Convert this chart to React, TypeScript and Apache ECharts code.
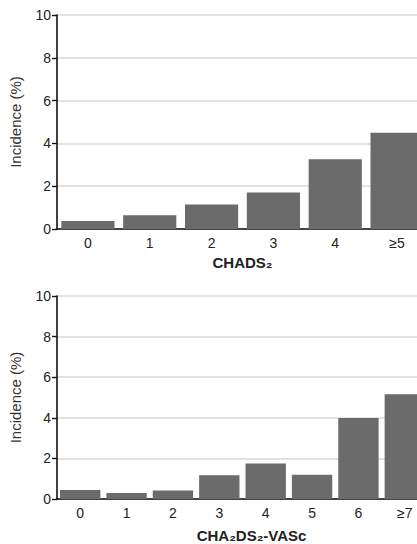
import React, { useEffect, useRef } from "react";
import * as echarts from "echarts";

const chadsCategories = ["0", "1", "2", "3", "4", "≥5"];
const chadsValues = [0.37, 0.64, 1.14, 1.7, 3.26, 4.5];
const vascCategories = ["0", "1", "2", "3", "4", "5", "6", "≥7"];
const vascValues = [0.44, 0.29, 0.42, 1.17, 1.75, 1.2, 3.99, 5.16];
const yTicks = { min: 0, max: 10, interval: 2 };

const FONT = "'Liberation Sans', Arial, sans-serif";

export default function App() {
  const ref = useRef<HTMLDivElement>(null);
  useEffect(() => {
    if (!ref.current) return;
    const chart = echarts.init(ref.current, null, { renderer: "svg" });
    const yAxisBase = (gridIndex: number) => ({
      type: "value",
      gridIndex,
      min: yTicks.min,
      max: yTicks.max,
      interval: yTicks.interval,
      name: "Incidence (%)",
      nameLocation: "middle",
      nameGap: 34,
      nameTextStyle: { fontSize: 15, color: "#333", fontFamily: FONT },
      axisLine: { show: true, lineStyle: { color: "#111", width: 1.6 } },
      axisTick: { show: true, length: 5, lineStyle: { color: "#111", width: 1.4 } },
      axisLabel: { fontSize: 14, color: "#222", margin: 6, fontFamily: FONT },
      splitLine: { show: true, lineStyle: { color: "#d9d9d9", width: 1.5 } },
    });
    const xAxisBase = (
      gridIndex: number,
      data: string[],
      name: string,
      nameGap: number,
      shift: number
    ) => ({
      type: "category",
      gridIndex,
      data,
      name,
      nameLocation: "middle",
      nameGap,
      nameTextStyle: {
        fontSize: 15,
        fontWeight: "bold",
        color: "#222",
        fontFamily: FONT,
        padding: [0, 0, 0, shift],
      },
      axisLine: { show: true, lineStyle: { color: "#111", width: 1.6 } },
      axisTick: { show: false },
      axisLabel: { fontSize: 14, color: "#222", margin: 7, fontFamily: FONT },
      splitLine: { show: false },
    });
    chart.setOption({
      animation: false,
      grid: [
        { left: 57, top: 15, width: 371, height: 214 },
        { left: 57, top: 296, width: 371, height: 205 },
      ],
      xAxis: [
        xAxisBase(0, chadsCategories, "CHADS₂", 26, 0),
        xAxisBase(1, vascCategories, "CHA₂DS₂-VASc", 29, 18),
      ],
      yAxis: [yAxisBase(0), yAxisBase(1)],
      series: [
        {
          type: "bar",
          xAxisIndex: 0,
          yAxisIndex: 0,
          data: chadsValues,
          barCategoryGap: "14%",
          itemStyle: { color: "#6b6b6b" },
        },
        {
          type: "bar",
          xAxisIndex: 1,
          yAxisIndex: 1,
          data: vascValues,
          barCategoryGap: "13%",
          itemStyle: { color: "#6b6b6b" },
        },
      ],
    });
    return () => chart.dispose();
  }, []);
  return (
    <div
      style={{
        position: "absolute",
        left: 0,
        top: 0,
        width: 417,
        height: 544,
        overflow: "hidden",
        background: "#fff",
      }}
    >
      <div ref={ref} style={{ width: 440, height: 544 }} />
    </div>
  );
}
